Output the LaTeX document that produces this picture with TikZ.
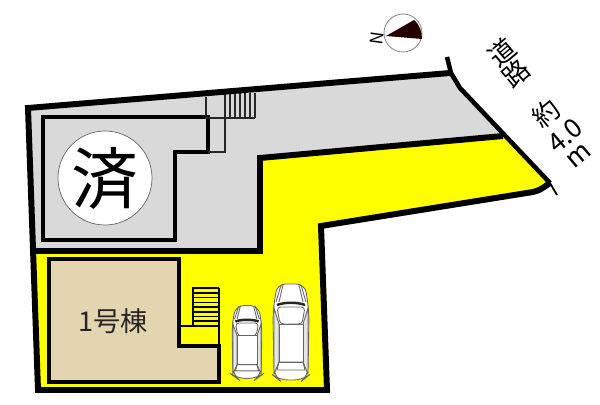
\documentclass[tikz,border=0pt]{standalone}
\usepackage{fontspec}
\setmainfont{Noto Sans CJK JP}
\definecolor{lotyellow}{RGB}{255,255,0}
\definecolor{lotgrey}{RGB}{217,217,217}
\definecolor{housetan}{RGB}{227,213,176}
\tikzset{
	wall/.style={line width=3.4pt,line join=miter},
	inner wall/.style={line width=1.9pt,line join=miter},
	thin wall/.style={line width=0.6pt,draw=black!85},
	road text/.style={rotate=40,font=\fontsize{15}{15}\selectfont,inner sep=0pt},
	car line/.style={draw=black!60,line width=0.5pt},
	car/.pic={
		\draw[car line,fill=white,rounded corners=5] (-14,-48) -- (14,-48) -- (18,-20) -- (17,44) -- (12,48) -- (-12,48) -- (-17,44) -- (-18,-20) -- cycle;
		\draw[car line,fill=black!10] (-17,-24) -- (-12,-8) -- (-12,30) -- (-17,42) -- cycle;
		\draw[car line,fill=black!10] (17,-24) -- (12,-8) -- (12,30) -- (17,42) -- cycle;
		\draw[car line,rounded corners=2] (-14,-25) -- (14,-25) -- (11,-8) -- (-11,-8) -- cycle;
		\draw[line width=1.4pt,black!85] (-14,-27) .. controls (-6,-30) and (6,-30) .. (14,-27);
		\draw[car line,fill=white] (-12,-8) -- (12,-8) -- (12,30) -- (-12,30) -- cycle;
		\draw[car line] (-12,30) -- (12,30) -- (14,38) -- (-14,38) -- cycle;
		\draw[car line] (-10,-47) -- (-15,-30) (10,-47) -- (15,-30);
		\draw[car line] (-8,-47) -- (-12,-30) (8,-47) -- (12,-30);
	}
}
\begin{document}
\begin{tikzpicture}[x=0.02cm,y=-0.02cm]
	\useasboundingbox (0,0) rectangle (600,405);
	\fill[lotgrey] (28,108) -- (450,73) -- (460,88) -- (503,136) -- (260,158) -- (260,251) -- (33,251) -- cycle;
	\fill[lotyellow] (503,136) -- (550,183) -- (533,192) -- (321,226) -- (327,390) -- (38,390) -- (33,251) -- (260,251) -- (260,158) -- cycle;
	% small building
	\draw[inner wall] (43,117) -- (208,117) -- (208,152) -- (175,152) -- (175,240) -- (43,240) -- cycle;
	\draw[thin wall] (206,97) -- (206,118) -- (255,118);
	\draw[thin wall] (225,94) -- (225,152) -- (208,152);
	\foreach \x in {230,235,...,255}
		\draw[thin wall] (\x,93) -- (\x,118);
	\node[circle,draw=black!60,fill=white,line width=0.4pt,inner sep=0pt,minimum size=94*0.02cm] (sold) at (105,178) {};
	\node[font=\fontsize{38}{38}\selectfont,inner sep=0pt] (soldtext) at (sold) {済};
	% house
	\draw[inner wall,fill=housetan] (49,259) -- (179,259) -- (179,346) -- (219,346) -- (219,382) -- (49,382) -- cycle;
	\node[font=\fontsize{15.5}{15.5}\selectfont,text=black!85,inner sep=0pt] (house) at (113,321) {1号棟};
	\draw[line width=1.3pt] (179,326) -- (219,326);
	\draw[line width=0.9pt] (219,288) -- (219,346);
	\draw[line width=0.9pt] (193,326) -- (193,288) -- (219,288);
	\foreach \y in {293,297.7,...,323}
		\draw[line width=0.9pt] (193,\y) -- (219,\y);
	% lot outline
	\draw[wall] (450,73) -- (28,108) -- (38,390) -- (327,390) -- (321,226) -- (533,192) .. controls (540,190) .. (550,183);
	\draw[wall] (503,136) -- (260,158) -- (260,251) -- (33,251);
	\draw[line width=2.6pt] (447,57) -- (451,73) -- (460,88) -- (550,183);
	\draw[line width=1pt] (550,183) -- (557,195);
	% cars
	\pic[xscale=0.83,yscale=0.76] at (247,342) {car};
	\pic at (291,332) {car};
	% compass
	\node[circle,draw=black!45,fill=white,line width=0.5pt,inner sep=0pt,minimum size=38*0.02cm] (compass) at (403,33) {};
	\fill[black!85!red] (386,36) -- (414,20) .. controls (420,25) and (422,32) .. (422,39) -- cycle;
	\node[rotate=82,font=\fontsize{10}{10}\selectfont,inner sep=0pt] (north) at (377,38) {N};
	% road label
	\node[road text] (roada) at (502,52) {道};
	\node[road text] (roadb) at (516,73) {路};
	\node[road text] (abouta) at (546,113) {約};
	\node[road text] (widtha) at (565,136) {4.0};
	\node[road text] (unita) at (579,156) {m};
\end{tikzpicture}
\end{document}
